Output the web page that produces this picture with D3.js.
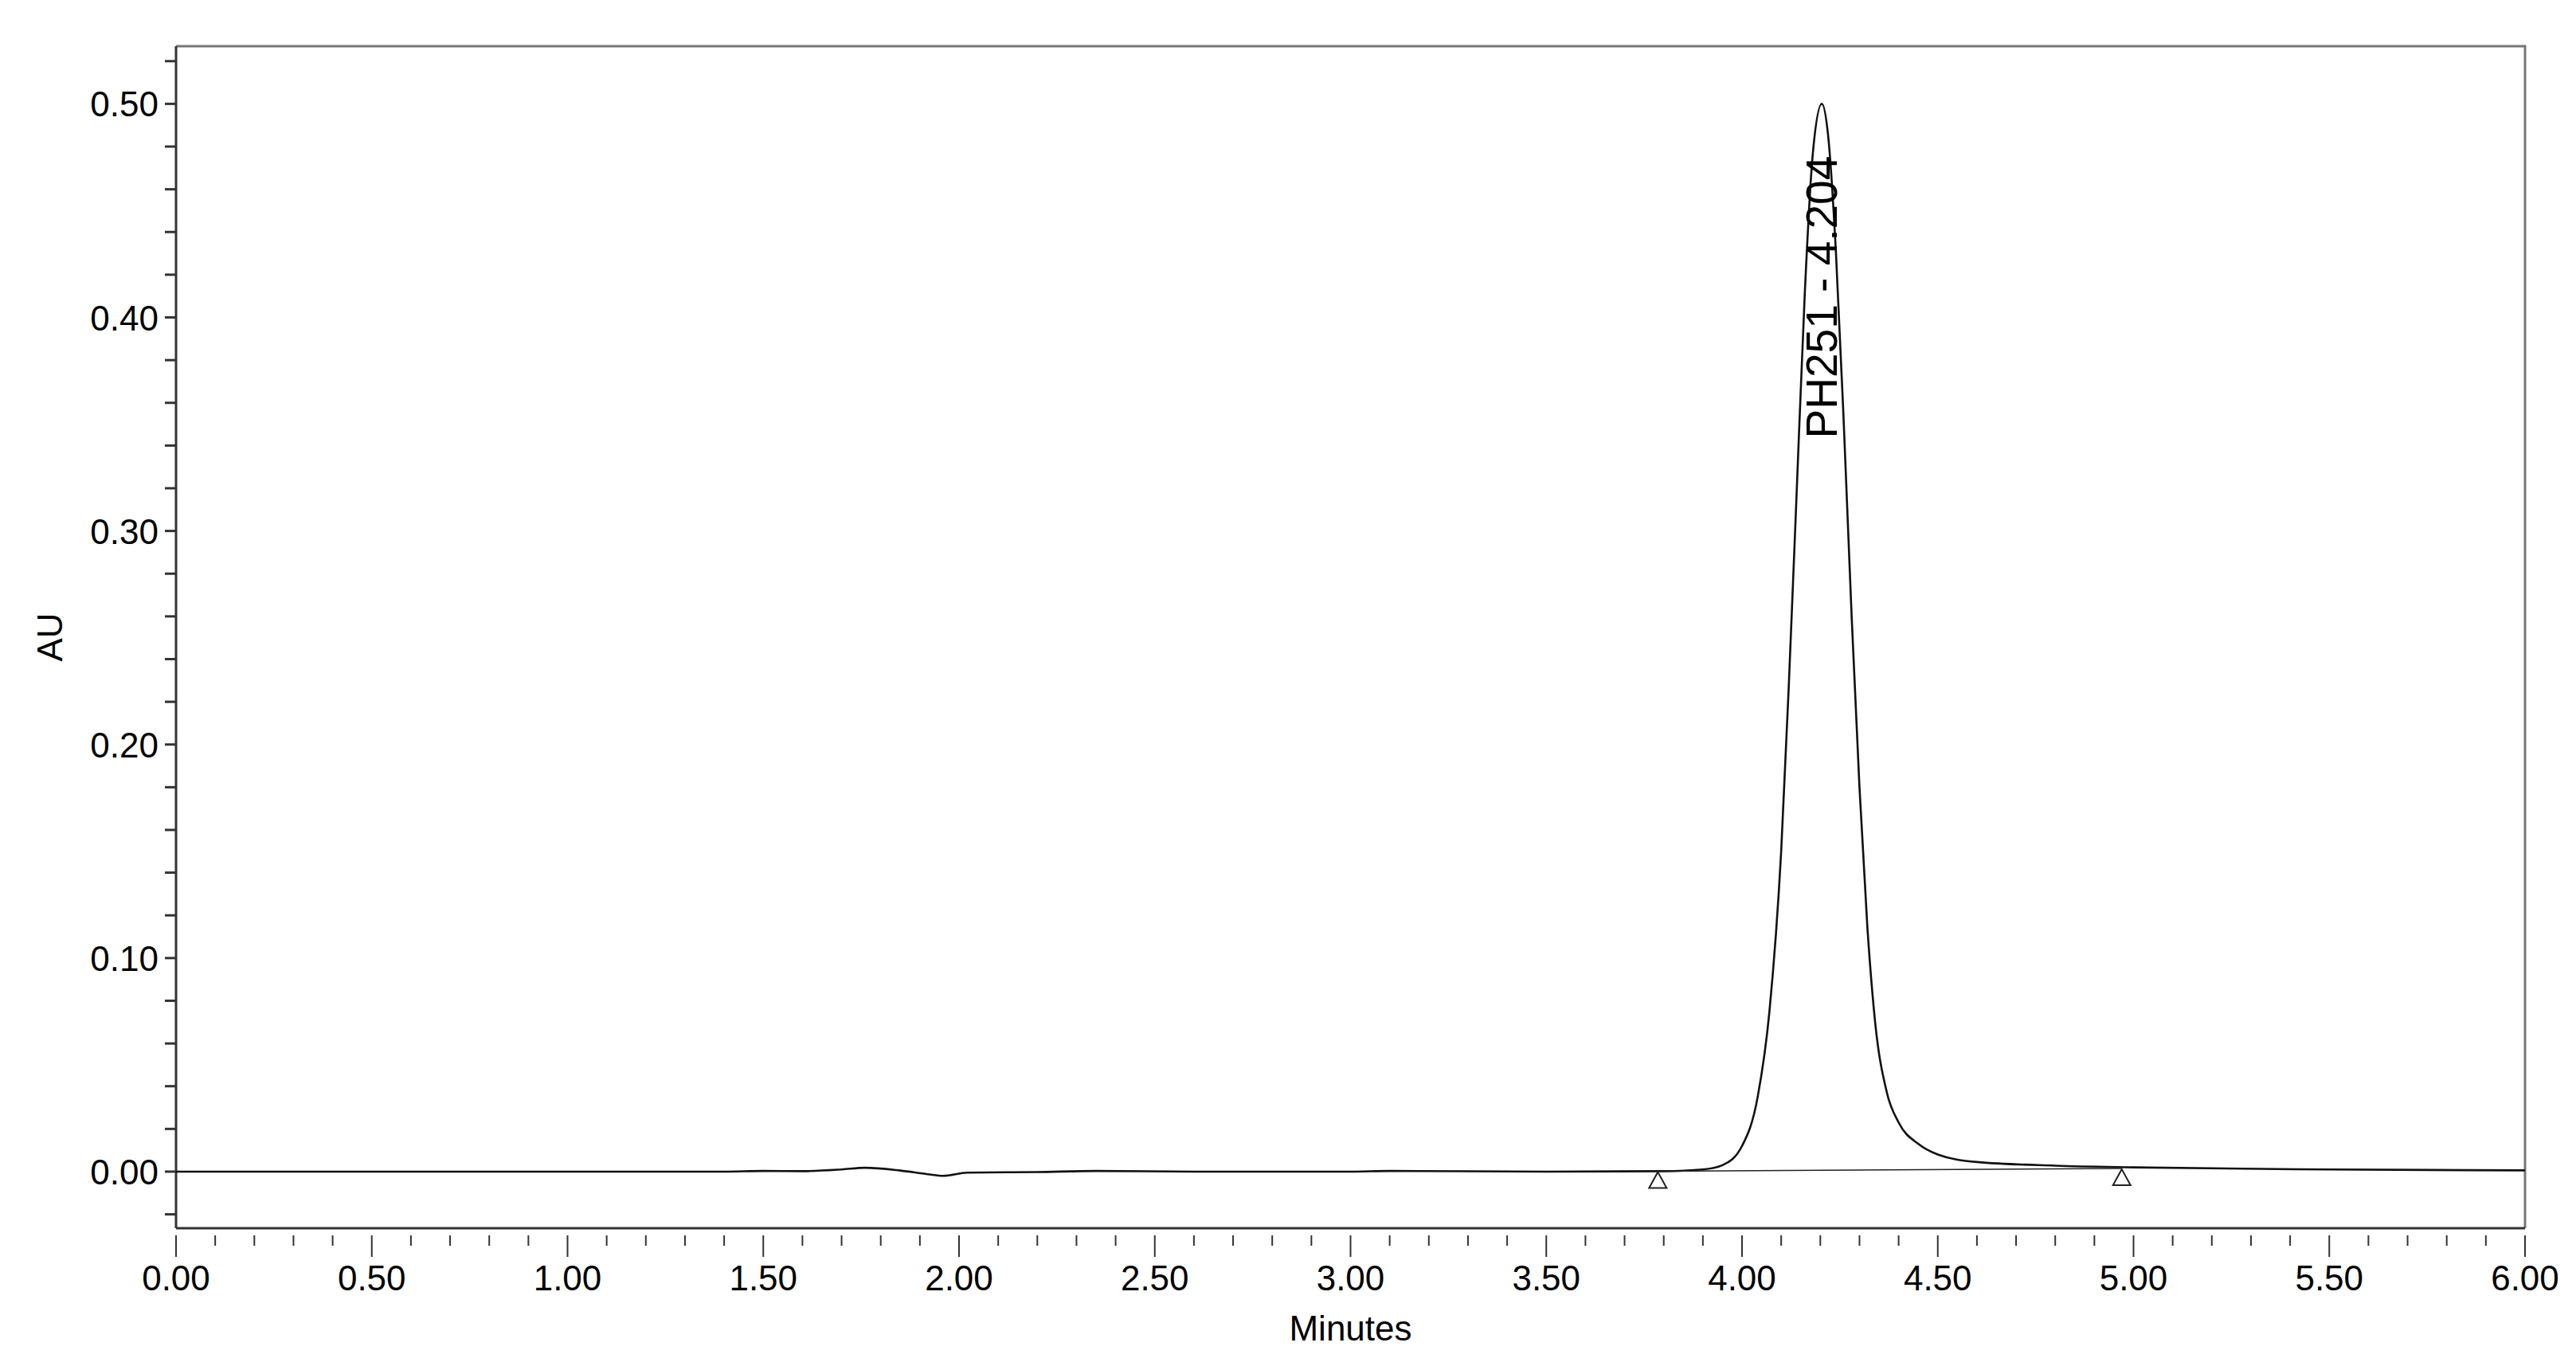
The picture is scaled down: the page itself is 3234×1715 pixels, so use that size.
<!DOCTYPE html>
<html><head><meta charset="utf-8">
<script src="https://cdn.jsdelivr.net/npm/d3@7"></script>
<style>body{margin:0;background:#fff}text{font-family:"Liberation Sans",Arial,sans-serif}</style>
</head><body><div id="chart"></div>
<script>
// trace
var minutes = [0,0.5,1.0,1.4,1.5,1.6,1.7,1.76,1.85,1.92,1.96,2.02,2.2,2.35,2.6,3.0,3.1,3.5,3.8,3.9,3.95,4.0,4.04,4.07,4.1,4.12,4.14,4.16,4.18,4.204,4.22,4.24,4.26,4.28,4.3,4.32,4.34,4.37,4.4,4.45,4.5,4.6,4.8,5.0,5.5,6.0];
var au = [0,0,0,0,0.0003,0.0002,0.001,0.0018,0.0005,-0.0012,-0.002,-0.0005,-0.0002,0.0003,0,0,0.0003,0,0.0002,0.001,0.003,0.012,0.035,0.075,0.15,0.23,0.32,0.41,0.475,0.5,0.485,0.43,0.35,0.26,0.18,0.115,0.07,0.037,0.023,0.013,0.008,0.0045,0.0028,0.002,0.001,0.0006];
var peakName = "PH251 - 4.204", peakTime = 4.204, peakAU = 0.5;
var markerTimes = [3.785, 4.97], markerAU = [0.0002, 0.0015];
var xTicks = d3.range(0, 6.001, 0.5), yTicks = [0, 0.1, 0.2, 0.3, 0.4, 0.5];

var W = 3234, H = 1715, L = 221, R = 3170, T = 58, B = 1542;
var x = d3.scaleLinear().domain([0, 6]).range([L, R]);
var y = d3.scaleLinear().domain([-0.0265, 0.527]).range([B, T]);
var svg = d3.select("#chart").append("svg").attr("width", W).attr("height", H);
var ax = "#333";

svg.append("path").attr("fill", "none").attr("stroke", "#777").attr("stroke-width", 3)
  .attr("d", "M" + L + "," + T + "H" + R + "V" + B);

// x axis
var gx = svg.append("g").attr("transform", "translate(0," + B + ")");
gx.append("line").attr("x1", L).attr("x2", R).attr("stroke", ax).attr("stroke-width", 3);
gx.selectAll(".mt").data(d3.range(0, 61)).enter().append("line")
  .attr("x1", d => x(d / 10)).attr("x2", d => x(d / 10))
  .attr("y1", 9).attr("y2", d => d % 5 ? 22 : 36).attr("stroke", ax).attr("stroke-width", 2);
gx.selectAll("text").data(xTicks).enter().append("text")
  .attr("x", d => x(d)).attr("y", 78).attr("text-anchor", "middle").attr("font-size", 44)
  .text(d => d.toFixed(2));
svg.append("text").attr("x", (L + R) / 2).attr("y", 1683).attr("text-anchor", "middle").attr("font-size", 44).text("Minutes");

// y axis
var gy = svg.append("g");
gy.append("line").attr("x1", L).attr("x2", L).attr("y1", T).attr("y2", B).attr("stroke", ax).attr("stroke-width", 3);
gy.selectAll("line.mt").data(d3.range(-1, 27)).enter().append("line")
  .attr("x1", L - 14).attr("x2", L).attr("y1", d => y(d * 0.02)).attr("y2", d => y(d * 0.02))
  .attr("stroke", ax).attr("stroke-width", 3);
gy.selectAll("text").data(yTicks).enter().append("text")
  .attr("x", L - 22).attr("y", d => y(d) + 16).attr("text-anchor", "end").attr("font-size", 44)
  .text(d => d.toFixed(2));
svg.append("text").attr("transform", "translate(78," + (T + B) / 2 + ") rotate(-90)")
  .attr("text-anchor", "middle").attr("font-size", 44).text("AU");

// trace
var pts = minutes.map((m, i) => [m, au[i]]);
svg.append("path").datum(pts).attr("fill", "none").attr("stroke", "#111").attr("stroke-width", 2.6)
  .attr("d", d3.line().x(d => x(d[0])).y(d => y(d[1])).curve(d3.curveMonotoneX));

// baseline + markers
svg.append("line").attr("x1", x(markerTimes[0])).attr("x2", x(markerTimes[1]))
  .attr("y1", y(markerAU[0])).attr("y2", y(markerAU[1])).attr("stroke", "#222").attr("stroke-width", 1.5);
svg.selectAll(".mk").data(markerTimes).enter().append("path")
  .attr("fill", "#fff").attr("stroke", "#222").attr("stroke-width", 2)
  .attr("transform", (d, i) => "translate(" + x(d) + "," + (y(markerAU[i]) + 12) + ")")
  .attr("d", "M0,-11L11,9L-11,9Z");

// peak label
svg.append("text").attr("transform", "translate(" + (x(peakTime) + 19) + "," + (y(peakAU) + 420) + ") rotate(-90)")
  .attr("font-size", 55).text(peakName);
</script></body></html>
